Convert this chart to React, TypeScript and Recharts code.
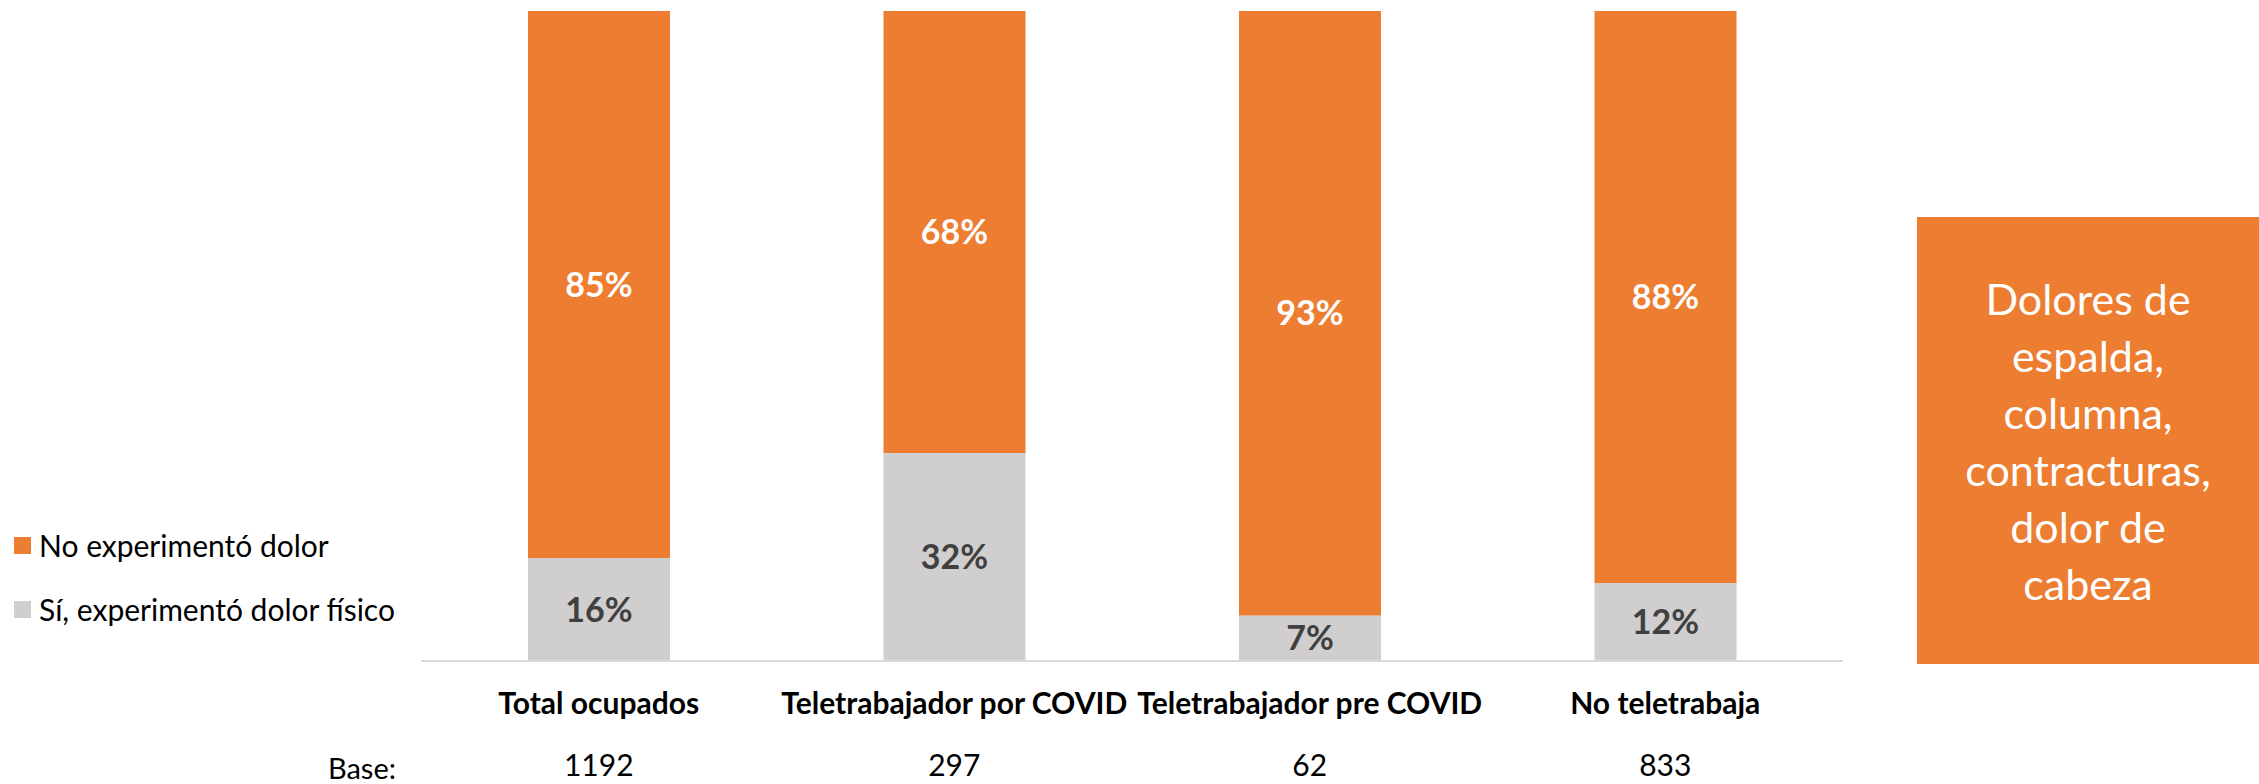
import React from 'react';
import { BarChart, Bar, XAxis, YAxis, Legend, LabelList } from 'recharts';

const categories = ['Total ocupados', 'Teletrabajador por COVID', 'Teletrabajador pre COVID', 'No teletrabaja'];
const siDolor = [16, 32, 7, 12];
const noDolor = [85, 68, 93, 88];
const bases = ['1192', '297', '62', '833'];
const boxLines = ['Dolores de', 'espalda,', 'columna,', 'contracturas,', 'dolor de', 'cabeza'];

const ORANGE = '#ED7D31';
const GREY = '#D0CECE';
const FONT = 'Lato, "Open Sans", sans-serif';

const data = categories.map((name, i) => ({
  name,
  si: siDolor[i],
  no: noDolor[i],
  base: bases[i],
}));

// category name plus the "Base" count below it
const CategoryTick = ({ x, y, payload }: any) => (
  <g>
    <text x={x} y={y + 45} textAnchor="middle" dominantBaseline="middle" fontFamily={FONT} fontSize={30} fontWeight={700} fill="#000">
      {payload.value}
    </text>
    <text x={x} y={y + 107} textAnchor="middle" dominantBaseline="middle" fontFamily={FONT} fontSize={30} fill="#000">
      {bases[payload.index]}
    </text>
  </g>
);

const LegendContent = () => {
  const items = [
    { label: 'No experimentó dolor', color: ORANGE },
    { label: 'Sí, experimentó dolor físico', color: GREY },
  ];
  return (
    <div style={{ fontFamily: FONT, fontSize: 30, color: '#000' }}>
      {items.map((it) => (
        <div key={it.label} style={{ display: 'flex', alignItems: 'center', height: 64 }}>
          <span style={{ width: 17, height: 17, background: it.color, marginRight: 8, display: 'inline-block' }} />
          <span>{it.label}</span>
        </div>
      ))}
    </div>
  );
};

export default function App() {
  return (
    <div style={{ position: 'absolute', left: 0, top: 0, width: 2259, height: 784, background: '#fff' }}>
      <BarChart
        width={2259}
        height={784}
        data={data}
        stackOffset="expand"
        margin={{ top: 11, right: 416, left: 421, bottom: 0 }}
      >
        <XAxis
          dataKey="name"
          height={123}
          tickLine={false}
          tickSize={0}
          tickMargin={0}
          axisLine={{ stroke: '#D9D9D9', strokeWidth: 2 }}
          tick={<CategoryTick />}
          interval={0}
        />
        <YAxis hide domain={[0, 1]} />
        <Legend
          verticalAlign="middle"
          align="center"
          layout="vertical"
          wrapperStyle={{ position: 'absolute', left: 14, top: 513, width: 420, height: 128 }}
          content={<LegendContent />}
        />
        <Bar dataKey="si" name="Sí, experimentó dolor físico" stackId="a" fill={GREY} barSize={142} isAnimationActive={false}>
          <LabelList dataKey="si" position="center" formatter={(v: any) => `${v}%`} fill="#404040" fontFamily={FONT} fontSize={34} fontWeight={700} />
        </Bar>
        <Bar dataKey="no" name="No experimentó dolor" stackId="a" fill={ORANGE} barSize={142} isAnimationActive={false}>
          <LabelList dataKey="no" position="center" formatter={(v: any) => `${v}%`} fill="#FFFFFF" fontFamily={FONT} fontSize={34} fontWeight={700} />
        </Bar>
      </BarChart>
      <div
        style={{
          position: 'absolute',
          left: 1917,
          top: 217,
          width: 342,
          height: 447,
          background: ORANGE,
          color: '#fff',
          fontFamily: FONT,
          fontSize: 43,
          lineHeight: '57px',
          display: 'flex',
          flexDirection: 'column',
          justifyContent: 'center',
          alignItems: 'center',
          textAlign: 'center',
        }}
      >
        {boxLines.map((l) => (
          <div key={l}>{l}</div>
        ))}
      </div>
      <div
        style={{
          position: 'absolute',
          left: 196,
          width: 200,
          textAlign: 'right',
          top: 768 - 20,
          height: 40,
          lineHeight: '40px',
          fontFamily: FONT,
          fontSize: 29,
          color: '#000',
        }}
      >
        Base:
      </div>
    </div>
  );
}
